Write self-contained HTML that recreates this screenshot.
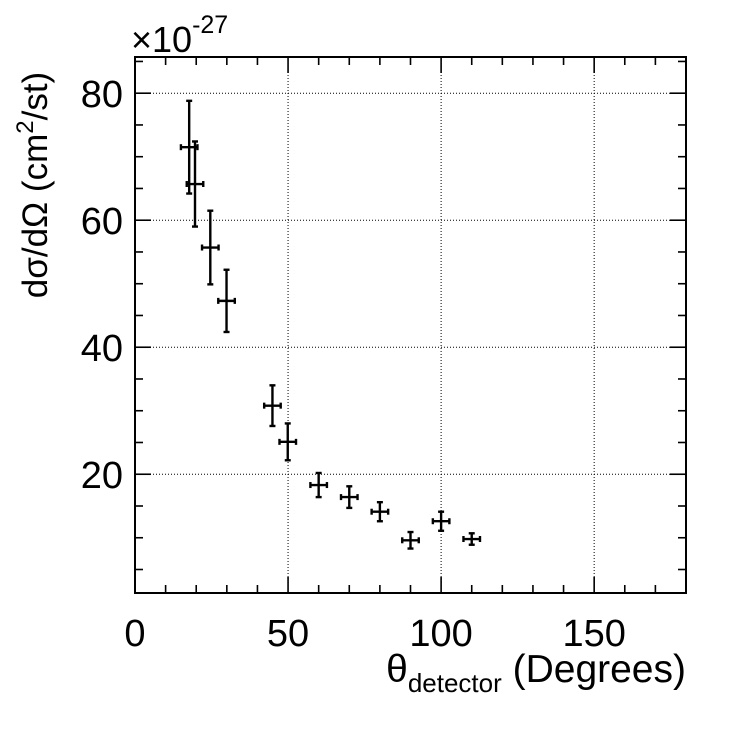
<!DOCTYPE html>
<html><head><meta charset="utf-8"><style>
body{margin:0;background:#fff;}
svg text{font-family:"Liberation Sans",Arial,sans-serif;fill:#000;}
</style></head><body>
<svg id="chart" width="746" height="724">
<g id="grid"></g>
<g id="axes"></g>
<g id="points"></g>
<text x="131" y="52" font-size="36">×10<tspan font-size="25" dy="-19">-27</tspan></text>
<text x="686" y="682" font-size="39" text-anchor="end">θ<tspan font-size="26" dy="10">detector</tspan><tspan dy="-10"> (Degrees)</tspan></text>
<text transform="translate(47,185) rotate(-90)" font-size="35" text-anchor="middle">dσ/dΩ (cm<tspan font-size="24" dy="-14">2</tspan><tspan dy="14">/st)</tspan></text>
</svg>
<script>
const xVals=[17.7,19.6,24.6,29.9,44.9,49.9,60,70,80,90,100,110];
const yVals=[71.5,65.7,55.7,47.3,30.8,25.1,18.3,16.4,14.1,9.6,12.6,9.8];
const yErrs=[7.3,6.7,5.8,4.9,3.2,2.9,1.9,1.7,1.5,1.3,1.5,0.9];
const xErrs=[2.7,2.7,2.7,2.7,2.7,2.7,2.7,2.7,2.7,2.7,2.7,2.7];
const xTicks=[0,50,100,150];
const yTicks=[20,40,60,80];
const L=135,R=686,T=57,B=593,X0=0,X1=180,Y0=1.3,Y1=85.7;
const sx=v=>L+(v-X0)/(X1-X0)*(R-L);
const sy=v=>B-(v-Y0)/(Y1-Y0)*(B-T);
const NS="http://www.w3.org/2000/svg";
function mk(p,tag,a){const e=document.createElementNS(NS,tag);for(const k in a)e.setAttribute(k,a[k]);p.appendChild(e);return e;}
const grid=document.getElementById('grid'),axes=document.getElementById('axes'),pts=document.getElementById('points');
xTicks.forEach(v=>{if(v>X0){const g=mk(grid,'line',{x1:sx(v),x2:sx(v),y1:T,y2:B,stroke:'#000','stroke-width':1,'stroke-dasharray':'1,2'});

}});
yTicks.forEach(v=>{const g=mk(grid,'line',{x1:L,x2:R,y1:sy(v),y2:sy(v),stroke:'#000','stroke-width':1,'stroke-dasharray':'1,2'});

});
const f=mk(axes,'rect',{x:L,y:T,width:R-L,height:B-T,fill:'none',stroke:'#000','stroke-width':2});


for(let v=0;v<=X1;v+=10){const len=v%50===0?16:8;
mk(axes,'line',{x1:sx(v),x2:sx(v),y1:B,y2:B-len,stroke:'#000','stroke-width':1.6});
mk(axes,'line',{x1:sx(v),x2:sx(v),y1:T,y2:T+len,stroke:'#000','stroke-width':1.6});}
for(let v=5;v<=85;v+=5){const len=v%20===0?16:8;
mk(axes,'line',{x1:L,x2:L+len,y1:sy(v),y2:sy(v),stroke:'#000','stroke-width':1.6});
mk(axes,'line',{x1:R,x2:R-len,y1:sy(v),y2:sy(v),stroke:'#000','stroke-width':1.6});}
xTicks.forEach(v=>{const t=mk(axes,'text',{x:sx(v),y:646,'font-size':38,'text-anchor':'middle'});t.textContent=v;

});
yTicks.forEach(v=>{const t=mk(axes,'text',{x:123,y:sy(v)+14,'font-size':38,'text-anchor':'end'});t.textContent=v;

});
xVals.forEach((x,i)=>{const g=mk(pts,'g',{stroke:'#000','stroke-width':2.4});


const cx=sx(x),cy=sy(yVals[i]),yt=sy(yVals[i]+yErrs[i]),yb=sy(yVals[i]-yErrs[i]),xl=sx(x-xErrs[i]),xr=sx(x+xErrs[i]);
mk(g,'line',{x1:cx,x2:cx,y1:yt,y2:yb});
mk(g,'line',{x1:xl,x2:xr,y1:cy,y2:cy});
mk(g,'line',{x1:cx-3,x2:cx+3,y1:yt,y2:yt});
mk(g,'line',{x1:cx-3,x2:cx+3,y1:yb,y2:yb});
mk(g,'line',{x1:xl,x2:xl,y1:cy-3,y2:cy+3});
mk(g,'line',{x1:xr,x2:xr,y1:cy-3,y2:cy+3});});
</script>
</body></html>
